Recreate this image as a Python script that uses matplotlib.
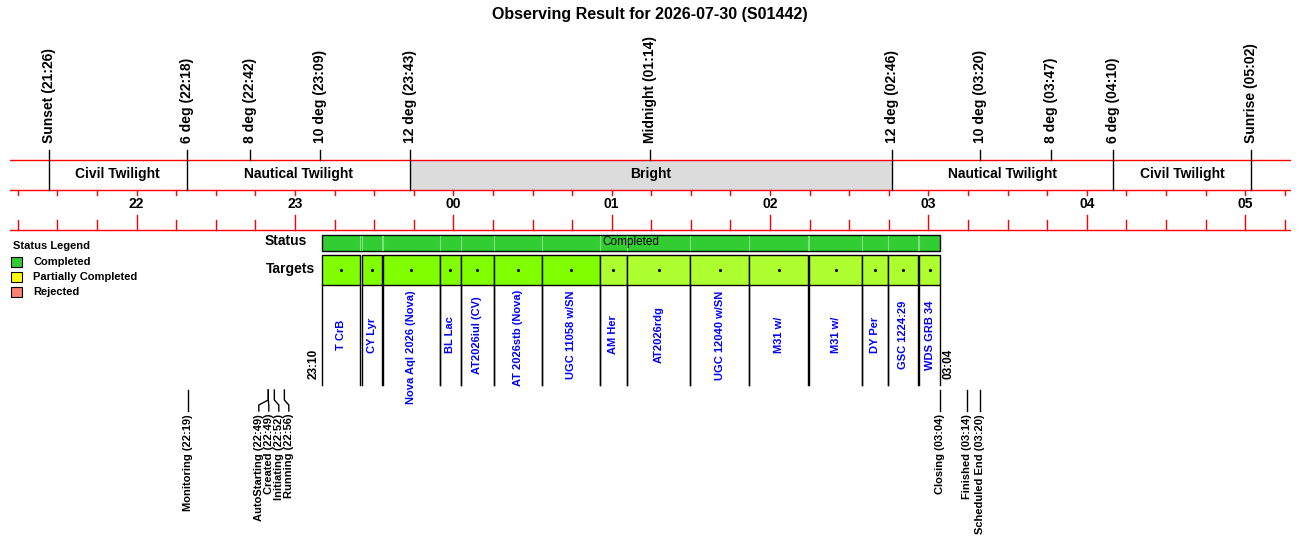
import numpy as np
import matplotlib
matplotlib.use('Agg')
import matplotlib.pyplot as plt
from matplotlib.patches import Rectangle

plt.rcParams['font.family'] = ['Liberation Sans', 'DejaVu Sans']

title = "Observing Result for 2026-07-30 (S01442)"

# visible time window (local)
window = ("21:12:04", "05:17:20")

# sky events drawn above the time axis
sky_labels = ["Sunset (21:26)", "6 deg (22:18)", "8 deg (22:42)", "10 deg (23:09)",
              "12 deg (23:43)", "Midnight (01:14)", "12 deg (02:46)", "10 deg (03:20)",
              "8 deg (03:47)", "6 deg (04:10)", "Sunrise (05:02)"]
sky_times = ["21:26:40", "22:19:00", "22:42:50", "23:09:40", "23:43:25", "01:14:30",
             "02:46:20", "03:19:30", "03:46:30", "04:10:00", "05:02:20"]
sky_bound = [True, True, False, False, True, False, True, False, False, True, True]

# bands between the boundary events
band_names = ["Civil Twilight", "Nautical Twilight", "Bright", "Nautical Twilight", "Civil Twilight"]
band_shaded = [False, False, True, False, False]

# status of the whole run
status_text = "Completed"
obs_start = "23:10:24"
obs_end = "03:04:18"

# targets
target_names = ["T CrB", "CY Lyr", "Nova Aql 2026 (Nova)", "BL Lac", "AT2026iul (CV)",
                "AT 2026stb (Nova)", "UGC 11058 w/SN", "AM Her", "AT2026rdg",
                "UGC 12040 w/SN", "M31 w/", "M31 w/", "DY Per", "GSC 1224:29", "WDS GRB 34"]
target_start = ["23:10:24", "23:25:18", "23:33:30", "23:54:48", "00:02:48", "00:15:18",
                "00:33:30", "00:55:24", "01:05:54", "01:29:42", "01:52:12", "02:14:54",
                "02:34:42", "02:44:30", "02:56:36"]
target_end = ["23:24:42", "23:32:54", "23:54:48", "00:02:48", "00:15:18", "00:33:30",
              "00:55:24", "01:05:54", "01:29:42", "01:52:12", "02:14:18", "02:34:42",
              "02:44:30", "02:55:54", "03:04:18"]
target_group = [1, 1, 1, 1, 1, 1, 1, 2, 2, 2, 2, 2, 2, 2, 2]

# run log events below
log_labels = ["Monitoring (22:19)", "AutoStarting (22:49)", "Created (22:49)",
              "Initiating (22:52)", "Running (22:56)", "Closing (03:04)",
              "Finished (03:14)", "Scheduled End (03:20)"]
log_times = ["22:19:36", "22:49:54", "22:49:54", "22:52:12", "22:56:00",
             "03:04:18", "03:14:28", "03:19:30"]

legend_items = ["Completed", "Partially Completed", "Rejected"]
legend_colors = ["#32cd32", "#ffff00", "#fa8072"]

group_colors = {1: "#7fff00", 2: "#adff2f"}


def t2h(s):
    p = [int(v) for v in s.split(":")] + [0]
    h = p[0] + p[1] / 60 + p[2] / 3600
    return h - 24 if h >= 12 else h


W, H = 1300, 560
fig = plt.figure(figsize=(W / 100, H / 100), dpi=100)
ax = fig.add_axes([10 / W, 0, 1281 / W, 1])
w0, w1 = t2h(window[0]), t2h(window[1])
ax.set_xlim(w0, w1)
ax.set_ylim(H, 0)
ax.axis("off")
hpp = (w1 - w0) / 1281  # hours per pixel


def px(p):
    return w0 + (p - 10) * hpp


fig.text(0.5, 1 - 15 / H, title, ha="center", va="center", fontsize=11.5, fontweight="bold")

# --- sky band ---
sx = [t2h(t) for t in sky_times]
bx = [x for x, b in zip(sx, sky_bound) if b]
for i, name in enumerate(band_names):
    a, b = bx[i], bx[i + 1]
    if band_shaded[i]:
        ax.add_patch(Rectangle((a, 160), b - a, 30, fc="#dcdcdc", ec="none", zorder=1))
    ax.text((a + b) / 2, 174, name, ha="center", va="center", fontsize=10, fontweight="bold")
for x, lab, b in zip(sx, sky_labels, sky_bound):
    ax.plot([x, x], [150, 190 if b else 160], color="k", lw=1, zorder=3)
    ax.text(x, 143, lab, rotation=90, ha="center", va="bottom", fontsize=10, fontweight="bold")

for y in (160, 190, 230):
    ax.plot([w0, w1], [y, y], color="red", lw=1, zorder=2)

# time axis ticks, every 15 min
ticks = np.arange(np.ceil(w0 * 4) / 4, w1, 0.25)
for t in ticks:
    hour = abs(t - round(t)) < 1e-6
    ax.plot([t, t], [190, 195], color="red", lw=1)
    ax.plot([t, t], [215 if hour else 220, 230], color="red", lw=1)
    if hour:
        ax.text(t, 204, "%02d" % (int(round(t)) % 24), ha="center", va="center",
                fontsize=10, fontweight="bold")

# --- legend ---
ax.text(px(13), 246, "Status Legend", ha="left", va="center", fontsize=8, fontweight="bold")
for i, (lab, c) in enumerate(zip(legend_items, legend_colors)):
    y = 262 + 15 * i
    ax.add_patch(Rectangle((px(11), y - 5), 11 * hpp, 10, fc=c, ec="k", lw=0.8))
    ax.text(px(33), y, lab, ha="left", va="center", fontsize=8, fontweight="bold")

# --- status row ---
s0, s1 = t2h(obs_start), t2h(obs_end)
ax.text(px(307), 241, "Status", ha="right", va="center", fontsize=10, fontweight="bold")
ax.add_patch(Rectangle((s0, 235), s1 - s0, 16, fc="#32cd32", ec="k", lw=1, zorder=2))
ts = [t2h(t) for t in target_start]
te = [t2h(t) for t in target_end]
for x in sorted(set(ts[1:] + te[:-1])):
    ax.plot([x, x], [236, 250], color="#7ee07e", lw=0.8, zorder=3)
ax.text((s0 + s1) / 2, 242, status_text, ha="center", va="center", fontsize=8.5, zorder=4)

# --- target row ---
ax.text(px(315), 269, "Targets", ha="right", va="center", fontsize=10, fontweight="bold")
labels = []
for name, a, b, g in zip(target_names, ts, te, target_group):
    ax.add_patch(Rectangle((a, 255), b - a, 30, fc=group_colors[g], ec="k", lw=1, zorder=2))
    ax.plot((a + b) / 2, 270, marker=".", ms=2.5, color="k", zorder=3)
    for x in (a, b):
        ax.plot([x, x], [285, 385], color="k", lw=1, zorder=2)
    labels.append(ax.text((a + b) / 2, 335, name, rotation=90, ha="center", va="center",
                          fontsize=8, fontweight="bold", color="#0000ff"))
fig.canvas.draw()
for t in labels:
    if t.get_window_extent().height > 90:
        t.set_y(290)
        t.set_va("top")

ax.annotate(obs_start[:5], (s0, 379), xytext=(-9, 0), textcoords="offset pixels",
            rotation=90, ha="center", va="bottom", fontsize=8.5, fontweight="bold")
ax.annotate(obs_end[:5], (s1, 379), xytext=(9, 0), textcoords="offset pixels",
            rotation=90, ha="center", va="bottom", fontsize=8.5, fontweight="bold")

# --- log events, labels spread apart when crowded ---
lx = [t2h(t) for t in log_times]
gap = 10 * hpp
order = sorted(range(len(lx)), key=lambda i: lx[i])
groups = []
for i in order:
    if groups and lx[i] - lx[groups[-1][-1]] < 1.2 * gap:
        groups[-1].append(i)
    else:
        groups.append([i])
pos = list(lx)
for g in groups:
    m = np.mean([lx[i] for i in g])
    for k, i in enumerate(g):
        pos[i] = m + (k - (len(g) - 1) / 2) * gap
for x, p, lab in zip(lx, pos, log_labels):
    ax.plot([x, x, p, p], [390, 400, 405, 411], color="k", lw=1)
    ax.text(p, 414, lab, rotation=90, ha="center", va="top", fontsize=8, fontweight="bold")

fig.savefig("out.png", dpi=100)
